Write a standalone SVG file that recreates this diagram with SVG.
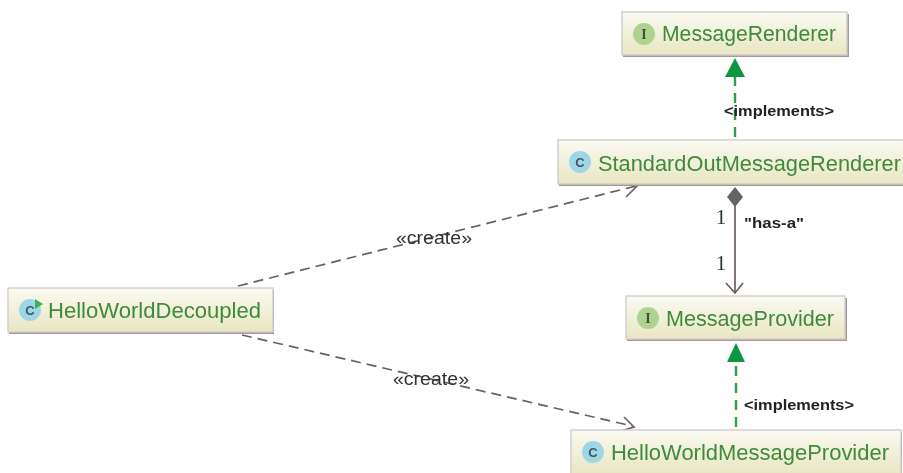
<svg xmlns="http://www.w3.org/2000/svg" width="903" height="473" viewBox="0 0 903 473">
<style>
.box{fill:url(#boxfill);stroke:#d2cccc;stroke-width:1.4}
.shadow{fill:#a09999}
.name{font-family:"Liberation Sans","Open Sans",sans-serif;font-size:22px;fill:#3f8a3a}
.ci{fill:#9fd6e6}
.ii{fill:#aed38f}
.ic{font-family:"Liberation Sans",sans-serif;font-size:13px;font-weight:bold;fill:#3d5560;text-anchor:middle}
.iit{font-family:"Liberation Serif",serif;font-size:14px;font-weight:bold;fill:#47503a;text-anchor:middle}
.lab{font-family:"Liberation Sans",sans-serif;font-size:15px;font-weight:700;fill:#222}
.cre{font-family:"Liberation Sans",sans-serif;font-size:18px;fill:#333;text-anchor:middle}
.mul{font-family:"Liberation Serif",serif;font-size:21px;fill:#333;text-anchor:middle}
.dep{fill:none;stroke:#6d5f5f;stroke-width:1.7;stroke-dasharray:10 6}
.head{fill:none;stroke:#6d5f5f;stroke-width:1.7}
.impl{fill:none;stroke:#2f9f50;stroke-width:2.4;stroke-dasharray:10 7}
.tri{fill:#0e963f}
</style>
<defs>
<linearGradient id="boxfill" x1="0" y1="0" x2="0" y2="1">
<stop offset="0" stop-color="#fafaf2"/><stop offset="1" stop-color="#e8e6c2"/>
</linearGradient>
<filter id="soft" x="-2%" y="-2%" width="104%" height="104%"><feGaussianBlur stdDeviation="0.5"/></filter>
</defs>
<rect width="903" height="473" fill="#fff"/>
<g filter="url(#soft)">
<g id="connectors">
<path class="impl" d="M735 137V77"/>
<path class="tri" d="M735 58L745 77H725Z"/>
<path class="impl" d="M736 427V364"/>
<path class="tri" d="M736 343L745 362H727Z"/>
<path class="head" d="M735 206V293"/>
<path class="head" d="M726 283L735 293L743 283"/>
<path d="M735 187L743 197L735 207L727 197Z" fill="#676363"/>
<path class="dep" d="M238 286L636 186"/>
<path class="head" d="M628 182L637 186L626 197"/>
<path class="dep" d="M242 335L632 426"/>
<path class="head" d="M624 417L634 427L621 431"/>
</g>
<text class="lab" x="724" y="116" textLength="110" lengthAdjust="spacingAndGlyphs">&lt;implements&gt;</text>
<text class="lab" x="744" y="228" textLength="60" lengthAdjust="spacingAndGlyphs">"has-a"</text>
<text class="lab" x="744" y="410" textLength="110" lengthAdjust="spacingAndGlyphs">&lt;implements&gt;</text>
<text class="mul" x="721" y="224">1</text>
<text class="mul" x="721" y="270">1</text>
<text class="cre" x="434" y="244" textLength="76" lengthAdjust="spacingAndGlyphs">«create»</text>
<text class="cre" x="431" y="385" textLength="76" lengthAdjust="spacingAndGlyphs">«create»</text>
<g id="MessageRenderer">
<rect class="shadow" x="623" y="14" width="226" height="43"/>
<rect class="box" x="622" y="12" width="225" height="43"/>
<circle class="ii" cx="644" cy="34" r="11"/>
<text class="iit" x="644" y="39">I</text>
<text class="name" x="662" y="41" textLength="174" lengthAdjust="spacingAndGlyphs">MessageRenderer</text>
</g>
<g id="StandardOutMessageRenderer">
<rect class="shadow" x="559" y="142" width="345" height="44"/>
<rect class="box" x="558" y="140" width="346" height="44"/>
<circle class="ci" cx="580" cy="162" r="11"/>
<text class="ic" x="580" y="167">C</text>
<text class="name" x="598" y="171" textLength="303" lengthAdjust="spacingAndGlyphs">StandardOutMessageRenderer</text>
</g>
<g id="MessageProvider">
<rect class="shadow" x="627" y="298" width="220" height="43"/>
<rect class="box" x="626" y="296" width="219" height="43"/>
<circle class="ii" cx="648" cy="318" r="11"/>
<text class="iit" x="648" y="323">I</text>
<text class="name" x="666" y="326" textLength="168" lengthAdjust="spacingAndGlyphs">MessageProvider</text>
</g>
<g id="HelloWorldMessageProvider">
<rect class="shadow" x="572" y="432" width="330" height="44"/>
<rect class="box" x="571" y="430" width="330" height="44"/>
<circle class="ci" cx="593" cy="452" r="11"/>
<text class="ic" x="593" y="457">C</text>
<text class="name" x="611" y="460" textLength="278" lengthAdjust="spacingAndGlyphs">HelloWorldMessageProvider</text>
</g>
<g id="HelloWorldDecoupled">
<rect class="shadow" x="9" y="290" width="265" height="44"/>
<rect class="box" x="8" y="288" width="265" height="44"/>
<circle class="ci" cx="30" cy="310" r="11"/>
<text class="ic" x="30" y="315">C</text>
<path d="M35 299L43 304L35 309Z" fill="#3fae55"/>
<text class="name" x="48" y="318" textLength="213" lengthAdjust="spacingAndGlyphs">HelloWorldDecoupled</text>
</g>
</g>
</svg>
